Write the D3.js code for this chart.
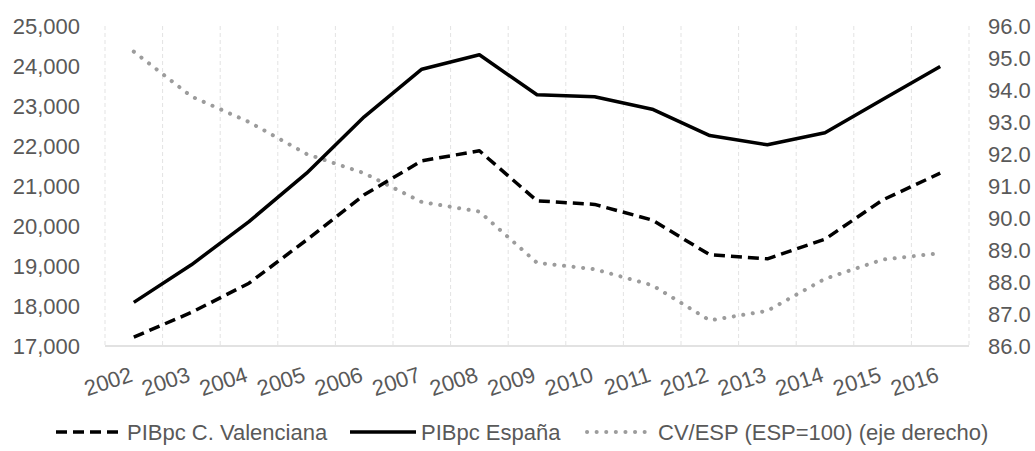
<!DOCTYPE html>
<html lang="es">
<head>
<meta charset="UTF-8">
<title>PIBpc</title>
<style>
  body { margin: 0; background: #fff; }
  svg { display: block; font-family: "Liberation Sans", Arial, sans-serif; }
  .tick text { fill: #595959; font-size: 22px; }
  .legend text { fill: #595959; font-size: 22px; }
</style>
</head>
<body>
<svg></svg>
<script src="https://cdn.jsdelivr.net/npm/d3@7"></script>
<script>
// data
const years = ["2002","2003","2004","2005","2006","2007","2008","2009","2010","2011","2012","2013","2014","2015","2016"];
const valenciana = [17220, 17840, 18570, 19650, 20780, 21630, 21880, 20630, 20540, 20150, 19280, 19180, 19670, 20650, 21320];
const espana = [18090, 19030, 20110, 21320, 22730, 23920, 24280, 23280, 23230, 22920, 22260, 22030, 22330, 23160, 23990];
const ratio = [95.2, 93.8, 93.0, 92.0, 91.4, 90.5, 90.2, 88.6, 88.4, 87.9, 86.8, 87.1, 88.1, 88.7, 88.9];
const leftTicks = [17000, 18000, 19000, 20000, 21000, 22000, 23000, 24000, 25000];
const rightTicks = [86, 87, 88, 89, 90, 91, 92, 93, 94, 95, 96];
const legendLabels = ["PIBpc C. Valenciana", "PIBpc España", "CV/ESP (ESP=100) (eje derecho)"];

const width = 1035, height = 451;
const plotL = 105, plotR = 969, plotT = 26, plotB = 346;

const svg = d3.select("svg").attr("width", width).attr("height", height);

const x = d3.scaleBand().domain(years).range([plotL, plotR]);
const yL = d3.scaleLinear().domain([17000, 25000]).range([plotB, plotT]);
const yR = d3.scaleLinear().domain([86, 96]).range([plotB, plotT]);

// vertical dashed grid at category boundaries
const bounds = years.map(d => x(d)).concat([plotR]);
svg.append("g").selectAll("line").data(bounds).join("line")
  .attr("x1", d => d).attr("x2", d => d)
  .attr("y1", plotT).attr("y2", plotB)
  .attr("stroke", "#e3e3e3").attr("stroke-width", 1)
  .attr("stroke-dasharray", "4,3");

// bottom axis line
svg.append("line")
  .attr("x1", plotL).attr("x2", plotR)
  .attr("y1", plotB).attr("y2", plotB)
  .attr("stroke", "#d9d9d9").attr("stroke-width", 1.5);

// left axis
svg.append("g")
  .attr("transform", `translate(${plotL},0)`)
  .call(d3.axisLeft(yL).tickValues(leftTicks).tickFormat(d3.format(",")).tickSize(0).tickPadding(25))
  .call(g => g.select(".domain").remove());

// right axis
svg.append("g")
  .attr("transform", `translate(${plotR},0)`)
  .call(d3.axisRight(yR).tickValues(rightTicks).tickFormat(d3.format(".1f")).tickSize(0).tickPadding(19))
  .call(g => g.select(".domain").remove());

// bottom axis labels, rotated
svg.append("g")
  .attr("transform", `translate(0,${plotB})`)
  .call(d3.axisBottom(x).tickSize(0).tickPadding(0))
  .call(g => g.select(".domain").remove())
  .selectAll("text")
    .attr("text-anchor", "end")
    .attr("dy", "0")
    .attr("y", 0)
    .attr("transform", "translate(0,35) rotate(-18)");

const cx = d => x(d) + x.bandwidth() / 2;

const lineL = d3.line().x((d, i) => cx(years[i])).y(d => yL(d));
const lineR = d3.line().x((d, i) => cx(years[i])).y(d => yR(d));

const styles = [
  { stroke: "#000", width: 3.5, dash: "11,6", cap: "butt" },
  { stroke: "#000", width: 3.5, dash: null, cap: "butt" },
  { stroke: "#9c9c9c", width: 4, dash: "0.1,9.5", cap: "round" }
];

svg.append("path").datum(ratio)
  .attr("d", lineR).attr("fill", "none")
  .attr("stroke", styles[2].stroke).attr("stroke-width", styles[2].width)
  .attr("stroke-dasharray", styles[2].dash).attr("stroke-linecap", styles[2].cap);

svg.append("path").datum(valenciana)
  .attr("d", lineL).attr("fill", "none")
  .attr("stroke", styles[0].stroke).attr("stroke-width", styles[0].width)
  .attr("stroke-dasharray", styles[0].dash).attr("stroke-linejoin", "round");

svg.append("path").datum(espana)
  .attr("d", lineL).attr("fill", "none")
  .attr("stroke", styles[1].stroke).attr("stroke-width", styles[1].width)
  .attr("stroke-linejoin", "round");

// legend
const legendX = [56, 350, 587];
const legendY = 432;
const leg = svg.append("g").attr("class", "legend");
legendLabels.forEach((label, i) => {
  const s = styles[i];
  leg.append("line")
    .attr("x1", legendX[i]).attr("x2", legendX[i] + 66)
    .attr("y1", legendY).attr("y2", legendY)
    .attr("stroke", s.stroke).attr("stroke-width", s.width)
    .attr("stroke-dasharray", s.dash).attr("stroke-linecap", s.cap);
  leg.append("text")
    .attr("x", legendX[i] + 71).attr("y", legendY)
    .attr("dy", "0.35em")
    .text(label);
});
</script>
</body>
</html>
